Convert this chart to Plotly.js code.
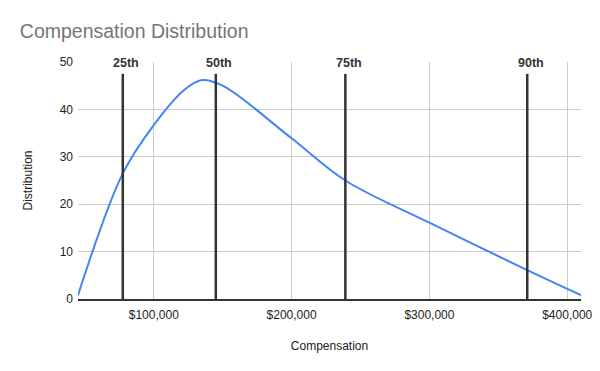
<!DOCTYPE html>
<html>
<head>
<meta charset="utf-8">
<script src="https://cdn.plot.ly/plotly-3.0.1.min.js"></script>
<style>html,body{margin:0;padding:0;background:#fff;}#chart{width:600px;height:371px;}</style>
</head>
<body>
<div id="chart"></div>
<script>
// Distribution curve (compensation in USD vs distribution value)
const compensation = [45000, 77500, 100000, 122000, 135000, 150000, 200000, 239000, 300000, 371000, 410000];
const distribution = [0.8, 26.5, 36.7, 44.1, 46.2, 45.0, 33.9, 25.0, 16.1, 6.1, 0.8];

// Percentile markers
const percentileLabels = ["25th", "50th", "75th", "90th"];
const percentileValues = [77500, 145000, 239000, 371000];
const percentileLineTop = 47.5;
const percentileLabelY = 49.8;

const traces = [{
  x: compensation,
  y: distribution,
  type: 'scatter',
  mode: 'lines',
  line: {color: '#4285F4', width: 2, shape: 'spline', smoothing: 1},
  hoverinfo: 'x+y',
  showlegend: false
}];

percentileValues.forEach((v, i) => {
  traces.push({
    x: [v, v],
    y: [0, percentileLineTop],
    type: 'scatter',
    mode: 'lines',
    line: {color: '#333333', width: 2.5},
    name: percentileLabels[i],
    showlegend: false,
    hoverinfo: 'name+x'
  });
});

const annotations = percentileValues.map((v, i) => ({
  x: v, y: percentileLabelY, xref: 'x', yref: 'y',
  text: '<b>' + percentileLabels[i] + '</b>',
  showarrow: false, xshift: 3.5,
  font: {family: 'Arial, "Liberation Sans", sans-serif', size: 12.5, color: '#333333'},
  xanchor: 'center', yanchor: 'middle'
}));

const layout = {
  width: 600, height: 371,
  margin: {l: 78, r: 19, t: 62, b: 72},
  paper_bgcolor: '#ffffff',
  plot_bgcolor: '#ffffff',
  font: {family: 'Arial, "Liberation Sans", sans-serif', size: 12, color: '#222222'},
  title: {
    text: 'Compensation Distribution',
    x: 0.033, xanchor: 'left', y: 0.915, yanchor: 'middle',
    font: {family: 'Arial, "Liberation Sans", sans-serif', size: 19.5, color: '#757575'}
  },
  xaxis: {
    range: [45000, 410000],
    tickvals: [100000, 200000, 300000, 400000],
    ticktext: ['$100,000', '$200,000', '$300,000', '$400,000'],
    showgrid: true, gridcolor: '#cccccc', gridwidth: 1,
    zeroline: false,
    showline: true, linecolor: '#333333', linewidth: 1.5,
    ticks: '', ticklabelstandoff: 4,
    tickfont: {size: 12, color: '#222222'},
    title: {text: 'Compensation', standoff: 20, font: {size: 12, color: '#222222'}}
  },
  yaxis: {
    range: [0, 50],
    tickvals: [0, 10, 20, 30, 40, 50],
    showgrid: true, gridcolor: '#cccccc', gridwidth: 1,
    zeroline: false, showline: false,
    ticks: '', ticklabelstandoff: 4,
    tickfont: {size: 12, color: '#222222'},
    title: {text: 'Distribution', standoff: 24, font: {size: 12, color: '#222222'}}
  },
  annotations: annotations,
  showlegend: false
};

Plotly.newPlot('chart', traces, layout, {displayModeBar: false, staticPlot: true});
</script>
</body>
</html>
